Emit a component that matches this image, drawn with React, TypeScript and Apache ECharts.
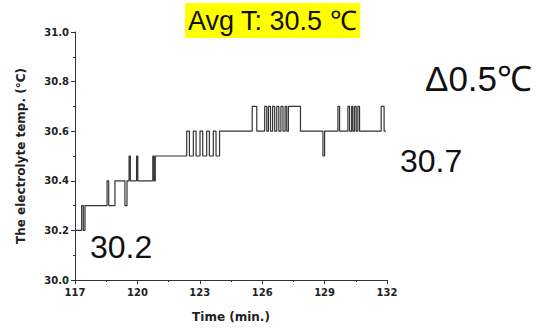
import React, { useEffect, useRef } from "react";
import * as echarts from "echarts";

const times: number[] = [
  117.0, 117.32, 117.4, 117.48, 118.54, 118.62, 118.92, 119.4, 119.5, 119.6,
  119.66, 119.96, 120.02, 120.74, 120.8, 120.86,
  122.37, 122.5, 122.69, 122.82, 123.01, 123.14, 123.33, 123.46, 123.65, 123.78, 123.95,
  125.52, 125.74, 126.12, 126.22, 126.3, 126.4, 126.5, 126.6, 126.7, 126.8, 126.9, 127.0,
  127.1, 127.18, 127.26, 127.84,
  128.92, 129.0, 129.64, 129.72, 130.12, 130.2, 130.3, 130.36, 130.44, 130.52, 130.6, 130.68,
  131.72, 131.86, 131.95,
];
const temps: number[] = [
  30.2, 30.3, 30.2, 30.3, 30.4, 30.3, 30.4, 30.3, 30.4, 30.5,
  30.4, 30.5, 30.4, 30.5, 30.4, 30.5,
  30.6, 30.5, 30.6, 30.5, 30.6, 30.5, 30.6, 30.5, 30.6, 30.5, 30.6,
  30.7, 30.6, 30.7, 30.6, 30.7, 30.6, 30.7, 30.6, 30.7, 30.6, 30.7, 30.6,
  30.7, 30.6, 30.7, 30.6,
  30.5, 30.6, 30.7, 30.6, 30.7, 30.6, 30.7, 30.6, 30.7, 30.6, 30.7, 30.6,
  30.7, 30.6, 30.6,
];

const titleText = "Avg T: 30.5 ℃";
const deltaText = "Δ0.5℃";
const highText = "30.7";
const lowText = "30.2";
const xName = "Time (min.)";
const yName = "The electrolyte temp. (°C)";

export default function App() {
  const ref = useRef<HTMLDivElement>(null);
  useEffect(() => {
    if (!ref.current) return;
    const chart = echarts.init(ref.current, null, { renderer: "svg" });
    const data = times.map((t, i) => [t, temps[i]]);
    const axisFont = { fontFamily: "DejaVu Sans", fontWeight: "bold" as const, color: "#222" };
    chart.setOption({
      animation: false,
      backgroundColor: "#fff",
      title: {
        text: titleText,
        left: 185,
        top: 3,
        padding: [4, 3, 4, 3],
        backgroundColor: "#FFFF00",
        textStyle: {
          fontFamily: "Liberation Sans",
          fontSize: 27,
          fontWeight: "normal",
          color: "#111",
        },
      },
      grid: { left: 75, top: 32, right: 152, bottom: 53, containLabel: false },
      xAxis: {
        type: "value",
        min: 117,
        max: 132,
        interval: 3,
        name: xName,
        nameLocation: "middle",
        nameGap: 31,
        nameTextStyle: { ...axisFont, fontSize: 12 },
        axisLine: { show: true, lineStyle: { color: "#333", width: 1 } },
        axisTick: { show: true, inside: false, length: 4, lineStyle: { color: "#333" } },
        minorTick: { show: true, splitNumber: 2, length: 2, lineStyle: { color: "#333" } },
        splitLine: { show: false },
        axisLabel: { ...axisFont, fontSize: 10, margin: 7 },
      },
      yAxis: {
        type: "value",
        min: 30,
        max: 31,
        interval: 0.2,
        name: yName,
        nameLocation: "middle",
        nameGap: 48,
        nameTextStyle: { ...axisFont, fontSize: 12 },
        axisLine: { show: true, lineStyle: { color: "#333", width: 1 } },
        axisTick: { show: true, inside: false, length: 4, lineStyle: { color: "#333" } },
        minorTick: { show: true, splitNumber: 2, length: 2, lineStyle: { color: "#333" } },
        splitLine: { show: false },
        axisLabel: {
          ...axisFont,
          fontSize: 10,
          margin: 6,
          formatter: (v: number) => v.toFixed(1),
        },
      },
      series: [
        {
          type: "line",
          step: "end",
          data,
          symbol: "none",
          lineStyle: { color: "#333", width: 1.2 },
        },
      ],
      graphic: [
        {
          type: "text",
          left: 425,
          top: 61,
          style: { text: deltaText, font: "normal 35px 'Liberation Sans'", fill: "#111" },
        },
        {
          type: "text",
          left: 400,
          top: 145,
          style: { text: highText, font: "normal 32px 'Liberation Sans'", fill: "#111" },
        },
        {
          type: "text",
          left: 90,
          top: 231,
          style: { text: lowText, font: "normal 32px 'Liberation Sans'", fill: "#111" },
        },
      ],
    });
    return () => chart.dispose();
  }, []);
  return (
    <div
      ref={ref}
      style={{ position: "fixed", left: 0, top: 0, width: 539, height: 333 }}
    />
  );
}
